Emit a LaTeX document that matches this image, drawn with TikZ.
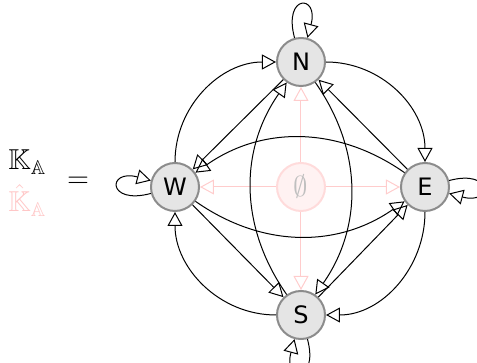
\documentclass[tikz,border=0pt]{standalone}
\usepackage{amssymb}
\usepackage{fontspec}
\newfontfamily\statefont{DejaVu Sans}
\usetikzlibrary{arrows.meta}

\tikzset{
  state/.style={circle, draw=black!45, fill=black!10, line width=1pt,
    minimum size=24pt, inner sep=0pt, font=\statefont\large},
  nullstate/.style={circle, draw=red!14, fill=red!5, line width=1pt,
    minimum size=24pt, inner sep=0pt, text=black!25, font=\Large},
  trans/.style={-{Triangle[open,length=7pt,width=7.5pt]}, line width=0.5pt},
  ghost/.style={trans, draw=red!20},
}

\begin{document}
\begin{tikzpicture}[x=0.5pt, y=0.5pt]
  \useasboundingbox (-301,-176) rectangle (176,187);

  % states
  \node[nullstate] (O) at (0,0) {$\emptyset$};
  \node[state] (N) at (0,125) {N};
  \node[state] (S) at (0,-128) {S};
  \node[state] (W) at (-126,0) {W};
  \node[state] (E) at (124,0) {E};

  % left-hand side
  \node[anchor=base west, inner sep=0pt, font=\Large] (K) at (-293,17) {$\mathbb{K}_{\mathbb{A}}$};
  \node[anchor=base west, inner sep=0pt, font=\Large, text=red!22] (Khat) at (-293,-25) {$\hat{\mathbb{K}}_{\mathbb{A}}$};
  \node[font=\Large] (eq) at (-223,5) {$=$};

  % arrows out of the empty state
  \foreach \t in {N,E,S,W} \draw[ghost] (O) -- (\t);

  % outer ring
  \draw[trans] (W) to[out=90,in=180] (N);
  \draw[trans] (N) to[out=0,in=90] (E);
  \draw[trans] (E) to[out=-90,in=0] (S);
  \draw[trans] (S) to[out=180,in=-90] (W);

  % inner diagonals
  \draw[trans] (N) -- (W);
  \draw[trans] (E) -- (N);
  \draw[trans] (S) -- (E);
  \draw[trans] (W) -- (S);

  % across
  \draw[trans] (S) to[bend left=35] (N);
  \draw[trans] (N) to[bend left=35] (S);
  \draw[trans] (E) to[bend right=35] (W);
  \draw[trans] (W) to[bend right=35] (E);

  % loops
  \draw[trans] (N) to[loop above, looseness=9] (N);
  \draw[trans] (E) to[loop right, looseness=9] (E);
  \draw[trans] (S) to[loop below, looseness=9] (S);
  \draw[trans] (W) to[loop left, looseness=9] (W);
\end{tikzpicture}
\end{document}
